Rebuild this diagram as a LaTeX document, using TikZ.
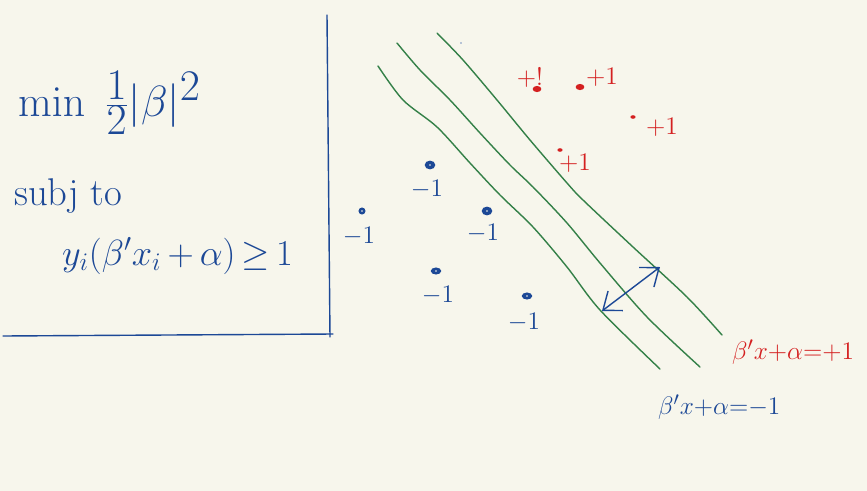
\documentclass[tikz,border=0pt]{standalone}
\usepackage{tikz}
\usetikzlibrary{arrows.meta,positioning,shapes.geometric}
\definecolor{board}{RGB}{247,246,236}
\definecolor{ink}{RGB}{28,72,150}
\definecolor{redink}{RGB}{212,32,32}
\definecolor{leaf}{RGB}{52,128,72}

\tikzset{
  negpt/.style={ellipse,fill=ink,inner sep=0pt,minimum width=6pt,minimum height=5pt},
  pospt/.style={ellipse,fill=redink,inner sep=0pt,minimum width=5pt,minimum height=3.5pt},
  neglbl/.style={text=ink,font=\Large},
  poslbl/.style={text=redink,font=\Large},
  margin/.style={leaf,thick,line cap=round}
}

\begin{document}
\begin{tikzpicture}[x=0.02cm,y=-0.02cm]
  \fill[board] (0,0) rectangle (867,491);
  \useasboundingbox (0,0) rectangle (867,491);
  % problem box
  \draw[ink,thick,line cap=round] (327,15) -- (330,337);
  \draw[ink,thick,line cap=round] (3,336) -- (333,334);
  \node[text=ink,font=\fontsize{38}{42}\selectfont,anchor=west] (obj) at (12,103) {$\min\;\frac{1}{2}|\beta|^2$};
  \node[text=ink,font=\fontsize{22}{26}\selectfont,anchor=west] (subj) at (8,196) {subj to};
  \node[text=ink,font=\fontsize{21}{25}\selectfont,anchor=west] (cons) at (56,256) {$y_i(\beta'x_i\,{+}\,\alpha)\,{\geq}\,1$};
  % margin lines
  \draw[margin] plot[smooth,tension=0.5] coordinates {(378,66) (403,100) (437,127) (470,163) (500,195) (533,227) (567,267) (600,310) (660,369)};
  \draw[margin] plot[smooth,tension=0.5] coordinates {(397,43) (420,70) (450,100) (480,133) (510,165) (533,187) (567,223) (600,263) (647,317) (700,367)};
  \draw[margin] plot[smooth,tension=0.5] coordinates {(437,33) (463,60) (497,100) (530,140) (567,183) (583,200) (633,247) (687,297) (722,335)};
  \fill[ink!60] (461,43) circle (0.8);
  % positive points
  \node[pospt] (p1) at (537,89) {};
  \node[poslbl] (p1l) at (530,77) {+!};
  \node[pospt] (p2) at (580,87) {};
  \node[poslbl] (p2l) at (602,77) {+1};
  \node[pospt,minimum width=3pt,minimum height=2pt] (p3) at (633,117) {};
  \node[poslbl] (p3l) at (662,127) {+1};
  \node[pospt,minimum width=3pt,minimum height=2pt] (p4) at (560,150) {};
  \node[poslbl] (p4l) at (575,163) {+1};
  % negative points
  \node[negpt] (n1) at (430,165) {};
  \node[neglbl] (n1l) at (427,189) {$-1$};
  \node[negpt,minimum width=4pt,minimum height=4pt] (n2) at (362,211) {};
  \node[neglbl] (n2l) at (359,236) {$-1$};
  \node[negpt] (n3) at (487,211) {};
  \node[neglbl] (n3l) at (483,233) {$-1$};
  \node[negpt,minimum height=4pt] (n4) at (436,271) {};
  \node[neglbl] (n4l) at (438,295) {$-1$};
  \node[negpt,minimum height=4pt] (n5) at (527,296) {};
  \node[neglbl] (n5l) at (524,322) {$-1$};
  \foreach \n in {n1,n2,n3,n4,n5} \fill[board] (\n) circle (0.9);
  % margin width
  \coordinate (mlo) at (602,311);
  \coordinate (mhi) at (660,267);
  \draw[ink,thick,{Straight Barb[length=9pt,width=14pt]}-{Straight Barb[length=9pt,width=14pt]}] (mlo) -- (mhi);
  % hyperplane labels
  \node[text=redink,font=\fontsize{15}{18}\selectfont,anchor=west] (upper) at (726,352) {$\beta'x{+}\alpha{=}{+}1$};
  \node[text=ink,font=\fontsize{15}{18}\selectfont,anchor=west] (lower) at (652,407) {$\beta'x{+}\alpha{=}{-}1$};
\end{tikzpicture}
\end{document}
